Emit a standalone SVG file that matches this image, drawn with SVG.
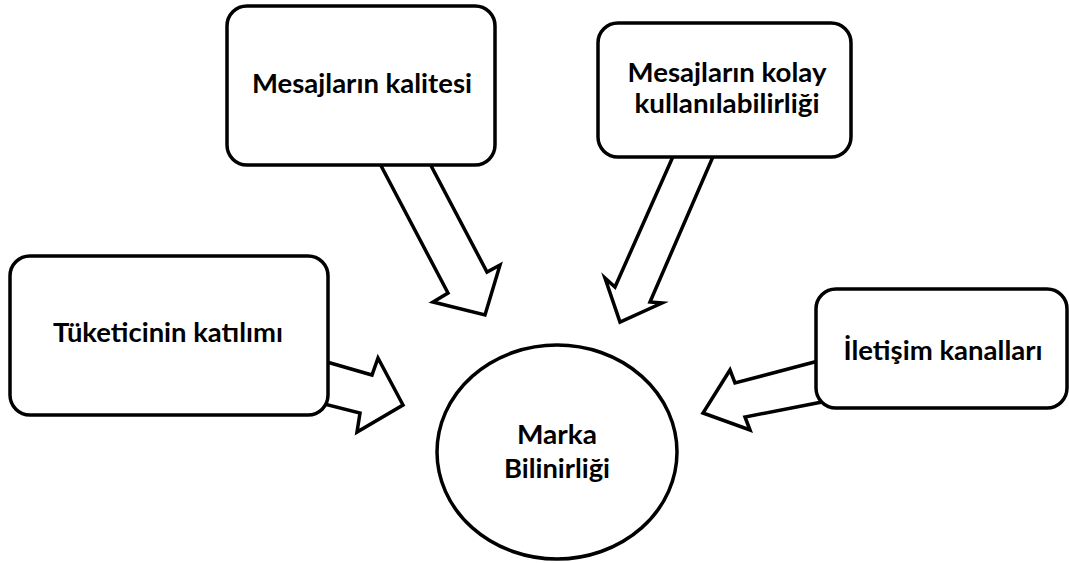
<svg xmlns="http://www.w3.org/2000/svg" width="1069" height="563" viewBox="0 0 1069 563">
<style>
.box{fill:#fff;stroke:#000;stroke-width:3.5}
.arr{fill:#fff;stroke:#000;stroke-width:3.5;stroke-linejoin:miter}
.t{font-family:Lato,"Liberation Sans",sans-serif;font-weight:bold;font-size:26px;fill:#000;text-anchor:middle}
</style>
<rect width="1069" height="563" fill="#fff"/>
<g id="connectors">
<polygon class="arr" points="378,160 448,293 433,302 485,315 500,265 487,272 428,160"/>
<polygon class="arr" points="675,152 615,287 605,278 620,322 662,303 650,302 715,152"/>
<polygon class="arr" points="320,360 372,375 378,358 403,405 357,432 360,413 320,403"/>
<polygon class="arr" points="822,360 735,383 730,370 703,413 750,430 745,417 822,402"/>
</g>
<g id="n1"><rect class="box" x="227" y="6" width="268" height="159" rx="20"/>
<text class="t" x="362" y="93" textLength="220" lengthAdjust="spacingAndGlyphs">Mesajların kalitesi</text></g>
<g id="n2"><rect class="box" x="598" y="23" width="253" height="134" rx="20"/>
<text class="t" x="727" y="82" textLength="199" lengthAdjust="spacingAndGlyphs">Mesajların kolay</text>
<text class="t" x="727" y="113" textLength="185" lengthAdjust="spacingAndGlyphs">kullanılabilirliği</text></g>
<g id="n3"><rect class="box" x="10" y="256" width="318" height="159" rx="20"/>
<text class="t" x="168" y="342" textLength="230" lengthAdjust="spacingAndGlyphs">Tüketicinin katılımı</text></g>
<g id="n4"><rect class="box" x="816" y="289" width="251" height="119" rx="20"/>
<text class="t" x="943" y="360" textLength="199" lengthAdjust="spacingAndGlyphs">İletişim kanalları</text></g>
<g id="n5"><ellipse class="box" cx="557" cy="452" rx="120" ry="107"/>
<text class="t" x="557" y="444" textLength="80" lengthAdjust="spacingAndGlyphs">Marka</text>
<text class="t" x="557" y="478" textLength="106" lengthAdjust="spacingAndGlyphs">Bilinirliği</text></g>
</svg>
